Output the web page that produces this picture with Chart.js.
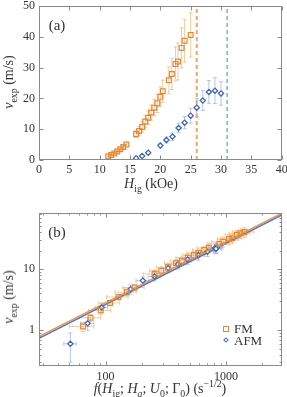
<!DOCTYPE html>
<html>
<head>
<meta charset="utf-8">
<script src="https://cdn.jsdelivr.net/npm/chart.js@4.4.0/dist/chart.umd.min.js"></script>
<style>
  body { margin: 0; background: #fff; }
  #wrap { position: relative; width: 287px; height: 397px; font-family: 'Liberation Serif', serif; color: #333; }
  canvas { position: absolute; left: 0; }
  .lbl { position: absolute; white-space: nowrap; transform: translate(-50%, -50%); font-size: 14px; }
  .rot { transform: translate(-50%, -50%) rotate(-90deg); }
  .panel { font-size: 15px; }
  sub, sup { font-size: 70%; line-height: 0; }
  .leg { position: absolute; font-size: 13px; white-space: nowrap; transform: translateY(-50%); }
  .mk { position: absolute; box-sizing: border-box; }
</style>
</head>
<body>
<div id="wrap">
  <canvas id="chartA" width="287" height="200" style="top:0"></canvas>
  <canvas id="chartB" width="287" height="197" style="top:200px"></canvas>

  <div class="lbl panel" style="left:57px;top:25px">(a)</div>
  <div class="lbl rot" style="left:9px;top:82px"><i>v</i><sub>exp</sub> (m/s)</div>
  <div class="lbl" style="left:151px;top:184px"><i>H</i><sub>ig</sub> (kOe)</div>

  <div class="lbl panel" style="left:57px;top:232px">(b)</div>
  <div class="lbl rot" style="left:9px;top:297px"><i>v</i><sub>exp</sub> (m/s)</div>
  <div class="lbl" style="left:160px;top:389px"><i>f</i>(<i>H</i><sub>ig</sub>; <i>H</i><sub><i>a</i></sub>; <i>U</i><sub>0</sub>; Γ<sub>0</sub>) (s<sup>−1/2</sup>)</div>

  <div class="mk" style="left:223px;top:326px;width:6px;height:6px;border:1.2px solid #de8a3c"></div>
  <div class="leg" style="left:234px;top:329px">FM</div>
  <div class="mk" style="left:224px;top:338px;width:4px;height:4px;border:1.2px solid #4466b8;transform:rotate(45deg)"></div>
  <div class="leg" style="left:234px;top:341px">AFM</div>
</div>

<script>
// panel (a): speed vs field
const fmField = [11.4, 11.9, 12.4, 12.9, 13.4, 13.9, 14.4, 16, 16.5, 17, 17.5, 18, 18.5, 19, 19.5, 20, 20.4, 21.4, 21.9, 22.5, 22.9, 23.5, 24, 25];
const fmSpeed = [1.15, 1.6, 2.1, 2.8, 3.5, 4.2, 5.0, 8.4, 9.4, 10.7, 12.5, 13.7, 15.4, 17.0, 18.4, 20.5, 22.3, 25.9, 27.9, 31.2, 32.0, 36.4, 38.7, 40.6];
const fmSpeedErr = [0.2, 0.2, 0.3, 0.3, 0.4, 0.5, 0.5, 1.2, 1.4, 1.7, 2.0, 2.2, 2.5, 2.7, 3.0, 3.2, 3.6, 4.4, 5.0, 5.5, 6.0, 6.5, 6.9, 7.2];

const afmField = [16, 17, 18, 20, 21, 22, 23, 24, 25, 26, 27, 28, 29, 30];
const afmSpeed = [0.6, 1.3, 2.35, 4.7, 6.5, 7.6, 10.4, 12.1, 14.4, 17.0, 19.3, 22.1, 22.5, 21.6];
const afmSpeedErr = [0.3, 0.3, 0.4, 0.8, 1.0, 1.2, 1.5, 2.0, 2.4, 3.0, 3.2, 3.7, 4.2, 3.8];

const fmCritical = 26;
const afmCritical = 31;

// panel (b): speed vs scaling function f
const fmDrive = [65, 75, 91, 109, 128, 150, 174, 255, 290, 330, 385, 430, 480, 540, 590, 660, 720, 880, 950, 1060, 1130, 1230, 1320, 1420];
const fmDriveErr = [15, 16, 19, 22, 26, 30, 35, 50, 58, 66, 77, 86, 96, 108, 118, 132, 144, 176, 190, 212, 226, 246, 264, 284];
const afmDrive = [51, 71, 93, 161, 204, 255, 330, 400, 480, 590, 700, 810, 840, 825];
const afmDriveErr = [6, 9, 11, 19, 25, 30, 40, 48, 58, 70, 84, 97, 100, 99];

const fitDrive = [28, 2900];
const fmFit = [0.79, 82];
const afmFit = [0.74, 77];

const orange = '#de8a3c', orangeLight = 'rgba(243,190,130,0.8)', orangeLine = '#ee9845';
const blue = '#4466b8', blueLight = 'rgba(160,185,230,0.8)', blueLine = '#4f78cf';

Chart.defaults.font.family = "'Liberation Serif', serif";
Chart.defaults.font.size = 12;
Chart.defaults.color = '#333';

const pairs = (xs, ys) => xs.map((v, i) => ({ x: v, y: ys[i] }));

const errorBars = {
  id: 'errorBars',
  beforeDatasetsDraw(chart) {
    const { ctx, chartArea: a, scales: { x, y } } = chart;
    ctx.save();
    ctx.beginPath();
    ctx.rect(a.left, a.top, a.width, a.height);
    ctx.clip();
    chart.data.datasets.forEach(ds => {
      if (!ds.yErr && !ds.xErr) return;
      ctx.strokeStyle = ds.errColor;
      ctx.lineWidth = 1;
      ds.data.forEach((p, i) => {
        const px = x.getPixelForValue(p.x), py = y.getPixelForValue(p.y);
        ctx.beginPath();
        if (ds.yErr) {
          const t = y.getPixelForValue(p.y + ds.yErr[i]);
          const b = y.getPixelForValue(Math.max(p.y - ds.yErr[i], 1e-3));
          ctx.moveTo(px, t); ctx.lineTo(px, b);
          ctx.moveTo(px - 2, t); ctx.lineTo(px + 2, t);
          ctx.moveTo(px - 2, b); ctx.lineTo(px + 2, b);
        }
        if (ds.xErr) {
          const l = x.getPixelForValue(p.x - ds.xErr[i]);
          const r = x.getPixelForValue(p.x + ds.xErr[i]);
          ctx.moveTo(l, py); ctx.lineTo(r, py);
          ctx.moveTo(l, py - 2); ctx.lineTo(l, py + 2);
          ctx.moveTo(r, py - 2); ctx.lineTo(r, py + 2);
        }
        ctx.stroke();
      });
    });
    ctx.restore();
  }
};

// box around the plot, ticks pointing inwards on all four sides
const frame = {
  id: 'frame',
  afterDraw(chart) {
    const { ctx, chartArea: a, scales } = chart;
    const marks = scale => {
      const list = scale.ticks.map(t => ({ v: t.value, len: 4 }));
      if (scale.type === 'logarithmic') {
        for (let e = Math.floor(Math.log10(scale.min)); e <= Math.ceil(Math.log10(scale.max)); e++) {
          for (let k = 2; k <= 9; k++) {
            const v = k * Math.pow(10, e);
            if (v > scale.min && v < scale.max) list.push({ v, len: 2 });
          }
        }
      }
      return list;
    };
    ctx.save();
    ctx.strokeStyle = '#8a8a8a';
    ctx.lineWidth = 1;
    const L = Math.round(a.left) + 0.5, R = Math.round(a.right) - 0.5;
    const T = Math.round(a.top) + 0.5, B = Math.round(a.bottom) - 0.5;
    ctx.strokeRect(L, T, R - L, B - T);
    ctx.beginPath();
    marks(scales.x).forEach(m => {
      const px = Math.round(scales.x.getPixelForValue(m.v)) + 0.5;
      ctx.moveTo(px, B); ctx.lineTo(px, B - m.len);
      ctx.moveTo(px, T); ctx.lineTo(px, T + m.len);
    });
    marks(scales.y).forEach(m => {
      const py = Math.round(scales.y.getPixelForValue(m.v)) + 0.5;
      ctx.moveTo(L, py); ctx.lineTo(L + m.len, py);
      ctx.moveTo(R, py); ctx.lineTo(R - m.len, py);
    });
    ctx.stroke();
    ctx.restore();
  }
};

const fmStyle = { pointStyle: 'rect', pointRadius: 3.4, borderColor: orange, backgroundColor: 'rgba(255,255,255,0)', borderWidth: 1.2, showLine: false };
const afmStyle = { pointStyle: 'rectRot', pointRadius: 2.6, borderColor: blue, backgroundColor: '#fff', borderWidth: 1.3, showLine: false };

new Chart(document.getElementById('chartA'), {
  type: 'scatter',
  data: {
    datasets: [
      Object.assign({ label: 'FM', data: pairs(fmField, fmSpeed), yErr: fmSpeedErr, errColor: orangeLight }, fmStyle),
      Object.assign({ label: 'AFM', data: pairs(afmField, afmSpeed), yErr: afmSpeedErr, errColor: blueLight }, afmStyle),
      { data: [{ x: fmCritical, y: 0 }, { x: fmCritical, y: 50 }], showLine: true, pointRadius: 0,
        borderColor: '#efa565', borderWidth: 2, borderDash: [4, 3] },
      { data: [{ x: afmCritical, y: 0 }, { x: afmCritical, y: 50 }], showLine: true, pointRadius: 0,
        borderColor: '#5575c0', borderWidth: 1, borderDash: [4, 3] }
    ]
  },
  options: {
    responsive: false,
    animation: false,
    layout: { padding: { top: 6, right: 4, left: 0, bottom: 0 } },
    plugins: { legend: { display: false }, tooltip: { enabled: false } },
    scales: {
      x: {
        type: 'linear', min: 0, max: 40,
        ticks: { stepSize: 5, padding: 3, maxRotation: 0 },
        grid: { display: false, drawTicks: false }, border: { display: false },
        afterFit(s) { s.height = 40; s.paddingLeft = 0; s.paddingRight = 0; }
      },
      y: {
        type: 'linear', min: 0, max: 50,
        ticks: { stepSize: 10, padding: 4 },
        grid: { display: false, drawTicks: false }, border: { display: false },
        afterFit(s) { s.width = 39; s.paddingTop = 0; s.paddingBottom = 0; }
      }
    }
  },
  plugins: [errorBars, frame]
});

new Chart(document.getElementById('chartB'), {
  type: 'scatter',
  data: {
    datasets: [
      Object.assign({ label: 'FM', data: pairs(fmDrive, fmSpeed), yErr: fmSpeedErr, xErr: fmDriveErr, errColor: orangeLight }, fmStyle),
      Object.assign({ label: 'AFM', data: pairs(afmDrive, afmSpeed), yErr: afmSpeedErr, xErr: afmDriveErr, errColor: blueLight }, afmStyle),
      { data: pairs(fitDrive, fmFit), showLine: true, pointRadius: 0, borderColor: orangeLine, borderWidth: 1.5 },
      { data: pairs(fitDrive, afmFit), showLine: true, pointRadius: 0, borderColor: blueLine, borderWidth: 1.5 }
    ]
  },
  options: {
    responsive: false,
    animation: false,
    layout: { padding: { top: 13, right: 4, left: 0, bottom: 0 } },
    plugins: { legend: { display: false }, tooltip: { enabled: false } },
    scales: {
      x: {
        type: 'logarithmic', min: 28, max: 2900,
        ticks: { padding: 4, maxRotation: 0, autoSkip: false, callback: v => String(v) },
        afterBuildTicks(s) { s.ticks = [{ value: 100 }, { value: 1000 }]; },
        grid: { display: false, drawTicks: false }, border: { display: false },
        afterFit(s) { s.height = 31; s.paddingLeft = 0; s.paddingRight = 0; }
      },
      y: {
        type: 'logarithmic', min: 0.26, max: 83,
        ticks: { padding: 4, autoSkip: false, callback: v => String(v) },
        afterBuildTicks(s) { s.ticks = [{ value: 1 }, { value: 10 }]; },
        grid: { display: false, drawTicks: false }, border: { display: false },
        afterFit(s) { s.width = 39; s.paddingTop = 0; s.paddingBottom = 0; }
      }
    }
  },
  plugins: [errorBars, frame]
});
</script>
</body>
</html>
